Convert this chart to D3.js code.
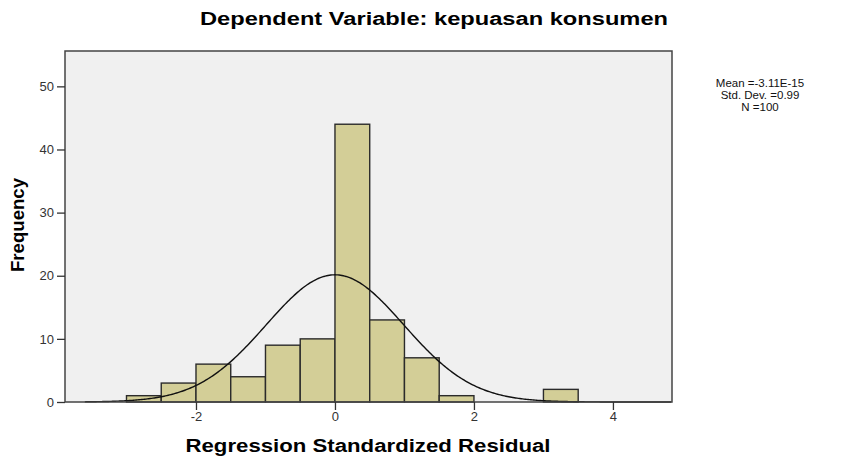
<!DOCTYPE html>
<html>
<head>
<meta charset="utf-8">
<script src="https://cdn.jsdelivr.net/npm/d3@7"></script>
<style>
  html, body { margin: 0; padding: 0; background: #fff; }
  text { font-family: "Liberation Sans", Arial, sans-serif; }
</style>
</head>
<body>
<svg id="chart" width="844" height="458"></svg>
<script>
// bins of width 0.5 (lower edges) and their counts
var binStarts = [-3, -2.5, -2, -1.5, -1, -0.5, 0, 0.5, 1, 1.5, 3];
var binCounts = [1, 3, 6, 4, 9, 10, 44, 13, 7, 1, 2];
var binWidth = 0.5;
var xTicks = [-2, 0, 2, 4];
var yTicks = [0, 10, 20, 30, 40, 50];
var stats = { mean: -3.11e-15, sd: 0.99, n: 100 };
var legendLines = ["Mean =-3.11E-15", "Std. Dev. =0.99", "N =100"];

var svg = d3.select("#chart");
var plotL = 65, plotR = 672, plotT = 51, plotB = 402;

var x = d3.scaleLinear().domain([-3.885, 4.85]).range([plotL, plotR]);
var y = d3.scaleLinear().domain([0, 55.6]).range([plotB, plotT]);

// plot background
svg.append("rect")
    .attr("x", plotL).attr("y", plotT)
    .attr("width", plotR - plotL).attr("height", plotB - plotT)
    .attr("fill", "#f0f0f0");

// bars
svg.append("g").selectAll("rect")
    .data(binStarts)
    .enter().append("rect")
    .attr("x", function (d) { return x(d); })
    .attr("y", function (d, i) { return y(binCounts[i]); })
    .attr("width", function (d) { return x(d + binWidth) - x(d); })
    .attr("height", function (d, i) { return y(0) - y(binCounts[i]); })
    .attr("fill", "#d3ce97")
    .attr("stroke", "#2b2b2b")
    .attr("stroke-width", 1.4);

// normal curve scaled to counts
var pdf = function (v) {
    var z = (v - stats.mean) / stats.sd;
    return stats.n * binWidth * Math.exp(-0.5 * z * z) / (stats.sd * Math.sqrt(2 * Math.PI));
};
var curvePts = d3.range(-3.6, 4.85, 0.02);
svg.append("path")
    .datum(curvePts)
    .attr("fill", "none")
    .attr("stroke", "#111")
    .attr("stroke-width", 1.4)
    .attr("d", d3.line().x(function (d) { return x(d); }).y(function (d) { return y(pdf(d)); }));

// frame
svg.append("rect")
    .attr("x", plotL).attr("y", plotT)
    .attr("width", plotR - plotL).attr("height", plotB - plotT)
    .attr("fill", "none")
    .attr("stroke", "#444")
    .attr("stroke-width", 1.5);

// axes
var fmt = function (d) { return String(d); };
var yAxis = svg.append("g")
    .attr("transform", "translate(" + plotL + ",0)")
    .call(d3.axisLeft(y).tickValues(yTicks).tickSize(8).tickPadding(3).tickFormat(fmt));
var xAxis = svg.append("g")
    .attr("transform", "translate(0," + plotB + ")")
    .call(d3.axisBottom(x).tickValues(xTicks).tickSize(8).tickPadding(2).tickFormat(fmt));
[xAxis, yAxis].forEach(function (a) {
    a.select(".domain").remove();
    a.selectAll("line").attr("stroke", "#333").attr("stroke-width", 1.3);
    a.selectAll("text").attr("fill", "#333").style("font-size", "13px");
});

// title and axis labels
svg.append("text")
    .attr("x", 434).attr("y", 25)
    .attr("text-anchor", "middle")
    .attr("textLength", 468).attr("lengthAdjust", "spacingAndGlyphs")
    .style("font-size", "18px").style("font-weight", "bold")
    .text("Dependent Variable: kepuasan konsumen");

svg.append("text")
    .attr("x", 368).attr("y", 452)
    .attr("text-anchor", "middle")
    .attr("textLength", 365).attr("lengthAdjust", "spacingAndGlyphs")
    .style("font-size", "18px").style("font-weight", "bold")
    .text("Regression Standardized Residual");

svg.append("text")
    .attr("transform", "translate(24,225) rotate(-90)")
    .attr("text-anchor", "middle")
    .attr("textLength", 94).attr("lengthAdjust", "spacingAndGlyphs")
    .style("font-size", "18px").style("font-weight", "bold")
    .text("Frequency");

// stats legend
svg.append("g").selectAll("text")
    .data(legendLines)
    .enter().append("text")
    .attr("x", 760)
    .attr("y", function (d, i) { return 87 + i * 12; })
    .attr("text-anchor", "middle")
    .style("font-size", "11.5px")
    .attr("fill", "#111")
    .text(function (d) { return d; });
</script>
</body>
</html>
